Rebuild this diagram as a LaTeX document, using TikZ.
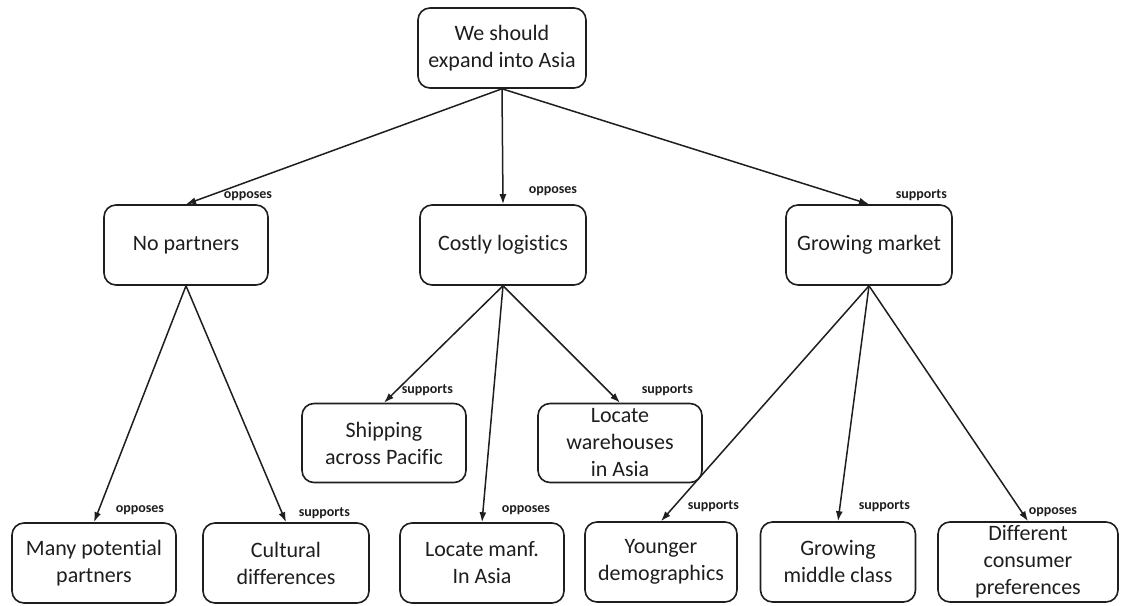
\documentclass[tikz,border=0pt]{standalone}
\usepackage{fontspec}
\setmainfont{Carlito}[Ligatures=NoCommon]
\usepackage{tikz}
\usetikzlibrary{arrows.meta}
\definecolor{MapInk}{HTML}{1E1E1E}

\begin{document}
\begin{tikzpicture}[
  x=1pt,y=-1pt,
  box/.style={draw=MapInk,line width=1.6pt,rounded corners=12pt,fill=white,minimum width=164pt,minimum height=80pt,inner sep=2pt,align=center,text=MapInk,font=\fontsize{22}{27}\selectfont},
  rel/.style={anchor=south west,inner sep=0pt,text=MapInk,font=\fontsize{14}{16}\selectfont\bfseries},
  edge/.style={-{Latex[length=10pt,width=7pt]},draw=MapInk,line width=1.5pt}
]
\useasboundingbox (0,0) rectangle (1121,605);
\node[box,minimum width=168pt] (asia) at (502,48) {We should\\expand into Asia};
\node[box] (nopart) at (186,245) {No partners};
\node[box,minimum width=166pt] (costly) at (503,245) {Costly logistics};
\node[box,minimum width=166pt] (market) at (869,245) {Growing market};
\node[box,minimum height=79pt] (ship) at (384,443) {Shipping\\across Pacific};
\node[box,minimum height=79pt,inner sep=0pt] (wareh) at (620,443) {Locate\\warehouses\\in Asia};
\node[box] (many) at (94,563) {Many potential\\partners};
\node[box,minimum width=166pt] (culture) at (286,563) {Cultural\\differences};
\node[box] (manf) at (482,563) {Locate manf.\\In Asia};
\node[box,minimum width=152pt] (younger) at (661,562) {Younger\\demographics};
\node[box,minimum width=155pt] (middle) at (838,562) {Growing\\middle class};
\node[box,minimum width=180pt,inner sep=0pt] (prefs) at (1028,562) {Different\\consumer\\preferences};
\draw[edge] (asia.south) -- (nopart.north) node[rel,xshift=37pt,yshift=3pt] {opposes};
\draw[edge] (asia.south) -- (costly.north) node[rel,xshift=25pt,yshift=8pt] {opposes};
\draw[edge] (asia.south) -- (market.north) node[rel,xshift=26pt,yshift=3pt] {supports};
\draw[edge] (nopart.south) -- (many.north) node[rel,xshift=21pt,yshift=7pt] {opposes};
\draw[edge] (nopart.south) -- (culture.north) node[rel,xshift=12pt,yshift=3pt] {supports};
\draw[edge] (costly.south) -- (ship.north) node[rel,xshift=17pt,yshift=6pt] {supports};
\draw[edge] (costly.south) -- (manf.north) node[rel,xshift=19pt,yshift=7pt] {opposes};
\draw[edge] (costly.south) -- (wareh.north) node[rel,xshift=21pt,yshift=6pt] {supports};
\draw[edge] (market.south) -- (younger.north) node[rel,xshift=26pt,yshift=9pt] {supports};
\draw[edge] (market.south) -- (middle.north) node[rel,xshift=20pt,yshift=9pt] {supports};
\draw[edge] (market.south) -- (prefs.north) node[rel,xshift=0pt,yshift=4pt] {opposes};
\end{tikzpicture}
\end{document}
